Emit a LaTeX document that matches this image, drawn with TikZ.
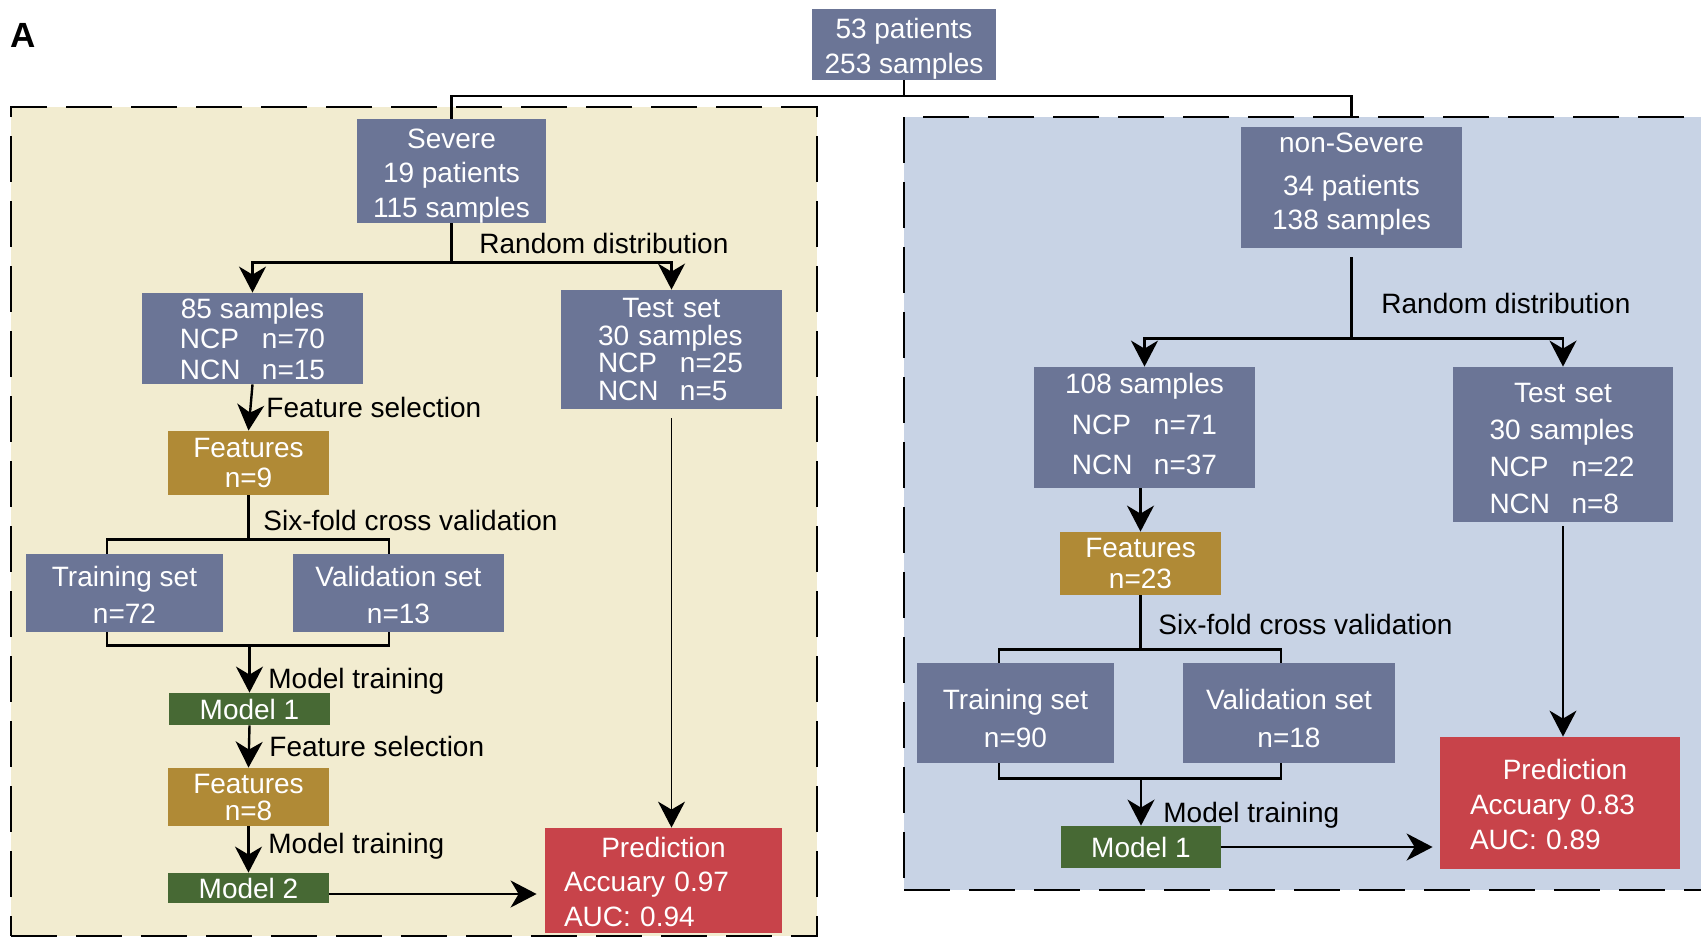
\documentclass[tikz,border=0pt]{standalone}
\usepackage{fontspec}
\setmainfont{Liberation Sans}
\usetikzlibrary{arrows.meta}
\definecolor{boxblue}{HTML}{6B7596}
\definecolor{beigebg}{HTML}{F2ECD0}
\definecolor{bluebg}{HTML}{C8D3E5}
\definecolor{mustard}{HTML}{B08A36}
\definecolor{modelgreen}{HTML}{476934}
\definecolor{predred}{HTML}{C8434A}
\newcommand\NcRow[2]{\makebox[41pt][l]{#1}#2}
\newcommand\UpH[1]{\rule{0pt}{#1}}
\newcommand\LoD[1]{\rule[-#1]{0pt}{#1}}
\begin{document}
\begin{tikzpicture}[x=0.5pt,y=-0.5pt,
  box/.style={fill=#1, text=white, inner sep=0pt, align=center},
  fs/.style={font=\fontsize{14pt}{#1}\selectfont},
  conn/.style={draw=black, line width=1.2pt},
  thinconn/.style={draw=black, line width=0.8pt},
  arrtip/.style={-{Stealth[length=13pt,width=13.5pt,inset=4pt]}},
  lab/.style={anchor=base west, inner sep=0pt, font=\fontsize{14pt}{17pt}\selectfont},
  panel/.style={draw=black, line width=1.4pt, dash pattern=on 23pt off 9.5pt, fill=#1, inner sep=0pt}
]
\useasboundingbox (0,0) rectangle (1701,939);
\clip (0,0) rectangle (1701,939);
\fill[white] (0,0) rectangle (1701,939);

% panels
\node[panel=beigebg, minimum width=403pt, minimum height=414.5pt] (lpanel) at (414,521.5) {};
\node[panel=bluebg, minimum width=408pt, minimum height=386.5pt] (rpanel) at (1312,503.5) {};

\node[anchor=center, inner sep=0pt, font=\bfseries\fontsize{17.5pt}{20pt}\selectfont] (labelA) at (23,35) {A};

% top
\node[box=boxblue, fs=17.5pt, minimum width=92pt, minimum height=34.5pt] (top) at (904,44.5) {\UpH{14.7pt}53 patients\\253 samples};

% left panel boxes
\node[box=boxblue, fs=17.25pt, minimum width=94.5pt, minimum height=50pt] (severe) at (451.5,171) {\UpH{14.5pt}Severe\\19 patients\\115 samples};
\node[box=boxblue, fs=15.25pt, minimum width=110.5pt, minimum height=45.5pt] (s85) at (252.5,338.5) {85 samples\\\NcRow{NCP}{n=70}\\\NcRow{NCN}{n=15}};
\node[box=boxblue, fs=13.85pt, minimum width=110.5pt, minimum height=59.5pt, text width=73.5pt, align=left] (testL) at (671.5,349.5) {\makebox[73.5pt]{Test set}\\30 samples\\\NcRow{NCP}{n=25}\\\NcRow{NCN}{n=5}};
\node[box=mustard, fs=15pt, minimum width=80.5pt, minimum height=32pt] (feat9) at (248.5,463) {Features\\n=9};
\node[box=boxblue, fs=18.5pt, minimum width=98.5pt, minimum height=39pt] (trainL) at (124.5,593) {\UpH{12pt}Training set\\n=72};
\node[box=boxblue, fs=18.5pt, minimum width=105.5pt, minimum height=39pt] (valL) at (398.5,593) {\UpH{12pt}Validation set\\n=13};
\node[box=modelgreen, fs=17pt, minimum width=80.5pt, minimum height=16pt] (model1L) at (249.5,709) {Model 1};
\node[box=mustard, fs=13.5pt, minimum width=80.5pt, minimum height=29pt] (feat8) at (248.5,797) {Features\\n=8};
\node[box=modelgreen, fs=17pt, minimum width=80.5pt, minimum height=15pt] (model2) at (248.5,888) {Model 2};
\node[box=predred, fs=17.25pt, minimum width=118.5pt, minimum height=52.5pt, text width=99.5pt, align=left] (predL) at (663.5,880.5) {\makebox[99.5pt]{\UpH{11.5pt}Prediction}\\Accuary 0.97\\AUC: 0.94};

% right panel boxes
\node[box=boxblue, fs=17pt, minimum width=110.5pt, minimum height=60.5pt] (nonsev) at (1351.5,187.5) {non-Severe\\[4.5pt]34 patients\\138 samples\LoD{6.2pt}};
\node[box=boxblue, fs=20.25pt, minimum width=110.5pt, minimum height=60.5pt] (s108) at (1144.5,427.5) {108 samples\\\NcRow{NCP}{n=71}\\\NcRow{NCN}{n=37}\LoD{3.3pt}};
\node[box=boxblue, fs=18.5pt, minimum width=110pt, minimum height=77.5pt, text width=73.5pt, align=left] (testR) at (1563,444.5) {\makebox[73.5pt]{\UpH{13.2pt}Test set}\\30 samples\\\NcRow{NCP}{n=22}\\\NcRow{NCN}{n=8}};
\node[box=mustard, fs=15.5pt, minimum width=80.5pt, minimum height=31.5pt] (feat23) at (1140.5,563.5) {Features\\n=23};
\node[box=boxblue, fs=19pt, minimum width=98.5pt, minimum height=50pt] (trainR) at (1015.5,713) {\UpH{15.6pt}Training set\\n=90};
\node[box=boxblue, fs=19pt, minimum width=106pt, minimum height=50pt] (valR) at (1289,713) {\UpH{15.6pt}Validation set\\n=18};
\node[box=modelgreen, fs=17pt, minimum width=80pt, minimum height=21pt] (model1R) at (1141,847) {Model 1};
\node[box=predred, fs=17.5pt, minimum width=120pt, minimum height=66pt, text width=90pt, align=left] (predR) at (1560,803) {\makebox[90pt]{\UpH{11.5pt}\hspace{5pt}Prediction}\\Accuary 0.83\\AUC: 0.89};

% top split
\draw[conn] (top.south) -- ++(0,16) coordinate (split);
\draw[conn] (split) -| (severe.north);
\draw[conn] (split) -| (rpanel.north -| nonsev.north);

% left panel connectors
\draw[conn] (severe.south) -- ++(0,39) coordinate (lsplit);
\draw[conn,arrtip] (lsplit) -| (s85.north);
\draw[conn,arrtip] (lsplit) -| (testL.north);
\draw[conn,arrtip] (s85.south) -- (feat9.north);
\draw[conn] (feat9.south) -- ++(0,44) coordinate (cvL);
\draw[conn] ([xshift=-8.75pt]trainL.north) |- (cvL) -| ([xshift=-4.75pt]valL.north);
\draw[conn] ([xshift=-8.75pt]trainL.south) -- ++(0,13) coordinate (bl) -| ([xshift=-4.75pt]valL.south);
\draw[conn,arrtip] (bl -| model1L.north) -- (model1L.north);
\draw[conn,arrtip] (model1L.south) -- (feat8.north);
\draw[conn,arrtip] (feat8.south) -- (model2.north);
\draw[conn,arrtip,shorten >=4pt] ([yshift=-3pt]model2.east) -- ([yshift=-3pt]model2.east -| predL.west);
\draw[thinconn,arrtip] ([yshift=-4.5pt]testL.south) -- (testL.south |- predL.north);

% right panel connectors
\draw[conn] ([yshift=-4.5pt]nonsev.south) -- ++(0,81) coordinate (rsplit);
\draw[conn,arrtip] (rsplit) -| (s108.north);
\draw[conn,arrtip] (rsplit) -| (testR.north);
\draw[conn,arrtip] (feat23.north |- s108.south) -- (feat23.north);
\draw[conn] (feat23.south) -- ++(0,54) coordinate (cvR);
\draw[conn] ([xshift=-8.25pt]trainR.north) |- (cvR) -| ([xshift=-4pt]valR.north);
\draw[conn] ([xshift=-8.25pt]trainR.south) -- ++(0,15) coordinate (br) -| ([xshift=-4pt]valR.south);
\draw[conn,arrtip] (br -| model1R.north) -- (model1R.north);
\draw[conn,arrtip,shorten >=3.5pt] (model1R.east) -- (model1R.east -| predR.west);
\draw[thinconn,arrtip] ([yshift=-2pt]testR.south) -- (testR.south |- predR.north);

% labels
\node[lab] (rdL) at (479,253) {Random distribution};
\node[lab] (fs1L) at (266,417) {Feature selection};
\node[lab] (cvlabL) at (263,530) {Six-fold cross validation};
\node[lab] (mt1L) at (268,688) {Model training};
\node[lab] (fs2L) at (269,756) {Feature selection};
\node[lab] (mt2L) at (268,853) {Model training};
\node[lab] (rdR) at (1381,313) {Random distribution};
\node[lab] (cvlabR) at (1158,634) {Six-fold cross validation};
\node[lab] (mtR) at (1163,822) {Model training};
\end{tikzpicture}
\end{document}
